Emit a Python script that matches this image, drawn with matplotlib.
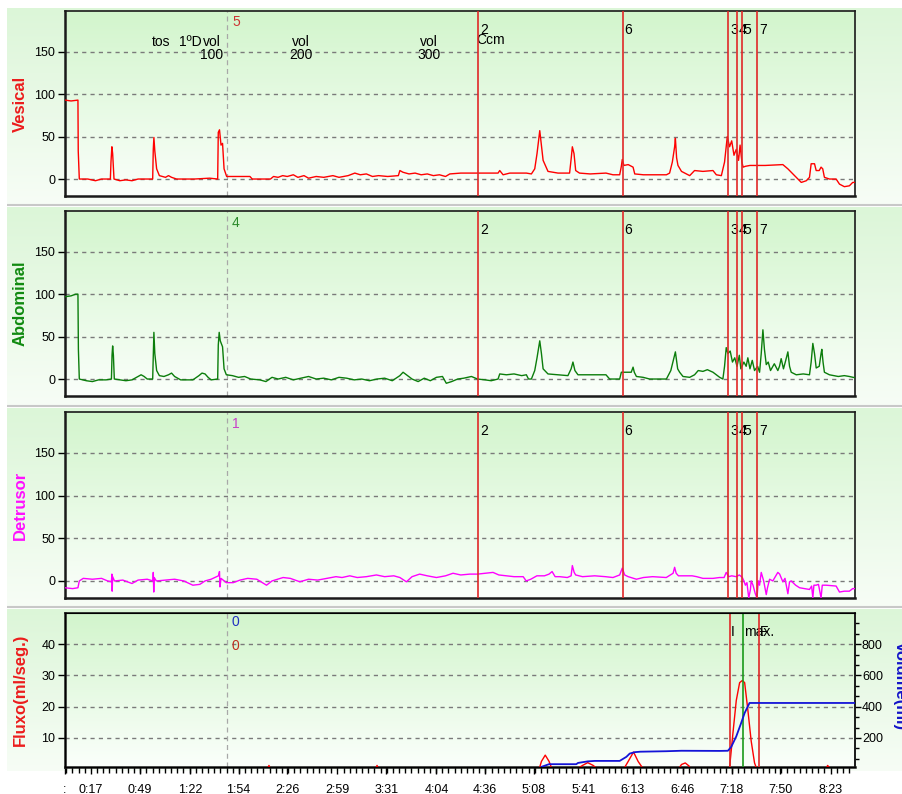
import matplotlib.pyplot as plt
import numpy as np
from matplotlib.colors import LinearSegmentedColormap
from matplotlib.ticker import FixedLocator

plt.rcParams['font.family'] = ['Liberation Sans', 'DejaVu Sans']

# time axis (seconds) and its labels
tick_sec = [0, 17, 49, 82, 114, 146, 179, 211, 244, 276, 308, 341, 373, 406, 438, 470, 503]
tick_lbl = [':', '0:17', '0:49', '1:22', '1:54', '2:26', '2:59', '3:31', '4:04',
            '4:36', '5:08', '5:41', '6:13', '6:46', '7:18', '7:50', '8:23']
t_end = 519

# pressure traces (cmH2O)
ves_t = [0, 4, 8.5, 8.7, 9.4, 15, 20, 24, 29.8, 30.2, 30.8, 31.3, 32.2, 36, 40, 44, 48, 57.6, 58.0, 58.4,
         59, 60.2, 62, 66, 68, 70, 73.3, 85, 95, 100.3, 100.7, 101.5, 102.5, 103.5, 104.5, 106.2, 114,
         121.5, 123, 135, 137, 140, 143, 146, 150, 153, 157, 160, 165, 170, 176, 180, 186, 190.4, 194,
         198, 202, 206, 212, 219, 220, 222, 226, 230, 234, 238, 242, 246, 250, 252.8, 260, 271, 284.5,
         285.6, 287.8, 292.2, 303.1, 306.4, 308.6, 310.1, 311.9, 313, 314.1, 317.3, 323.9, 331.5, 332.6,
         333.3, 334.4, 335.5, 338, 345, 355.4, 360, 364.4, 365.5, 366.1, 367.2, 370, 373.2, 374.3, 380,
         395.1, 397.2, 399, 400.5, 401, 401.8, 402.7, 405, 407.1, 410.4, 413.6, 419.1, 425.7, 427.9,
         431.2, 433.3, 435.1, 436.6, 438, 439.5, 441, 442.5, 443.5, 444.7, 445.5, 447, 450, 460, 471.6,
         474.9, 477.1, 480.4, 483.7, 487, 489.1, 490.2, 492.4, 493.5, 495.5, 496.7, 497.8, 498.9, 502.2,
         506.6, 508.8, 512, 515.3, 517.5, 519]
ves_v = [93, 92, 93, 33, 0, 0, -2, 0, 0, 20, 38, 30, 0, -2, -1, -2, 0, 0, 35, 49,
         33, 12, 4, 2, 4, 2, 0, 0, 1, 0, 55, 58, 40, 42, 12, 3, 3,
         3, 0, 0, 3, 2, 4, 3, 5, 2, 4, 1, 3, 2, 4, 2, 4, 7, 5,
         6, 3, 4, 3, 4, 10, 8, 6, 7, 5, 6, 4, 5, 3, 6, 7, 7, 7,
         10, 5, 7, 7, 6, 12, 30, 57, 40, 22, 9, 7, 7, 25,
         38, 30, 10, 7, 6, 7, 5, 5, 15, 23, 16, 17, 14, 6, 5,
         5, 7, 20, 38, 48, 25, 16, 9, 7, 4, 10, 9, 10, 5,
         4, 20, 50, 38, 45, 28, 35, 22, 40, 20, 14, 15, 16, 16, 17,
         12, 8, 2, -4, -2, 2, 18, 18, 10, 10, 14, 12, 2, 0,
         0, -6, -9, -8, -4, -4]

abd_t = [0, 4, 7, 8.5, 8.8, 9.4, 14, 18, 22, 27, 30.5, 30.9, 31.3, 31.8, 32.4, 36, 40, 44, 48, 50, 52,
         54, 57.6, 58.0, 58.4, 59, 60.2, 62, 65, 68, 70, 72, 76, 84, 88, 90, 92, 94, 96, 100.3, 100.7,
         101.3, 102, 103.5, 104.5, 106, 110, 114, 118, 122, 128, 132, 136, 140, 145, 150, 155, 160, 165,
         170, 175, 180, 185, 190, 195, 200, 205, 210, 215, 220, 222.1, 224.3, 228, 232, 236, 240, 244,
         248, 250.5, 254, 258, 262, 267, 271, 276, 280, 284.5, 285.6, 290, 295, 300, 303.1, 304.5, 306.4,
         308.6, 310.1, 311.9, 313, 314.1, 317.3, 323.9, 330.4, 332.5, 333.7, 335, 337, 345, 355.4, 357.8,
         364.4, 365.5, 372, 373.2, 374, 375.4, 379.8, 384.1, 395.1, 398, 400.5, 401, 402.5, 403.8, 406,
         410.4, 413.6, 416, 419.1, 422, 425.7, 430.1, 432.2, 433.3, 434.4, 435.5, 437, 438.5, 440, 441.5,
         443, 444, 446, 447.5, 448.6, 450, 451.5, 453, 455, 456.3, 457.4, 458.5, 459.5, 460.7, 462, 463.5,
         466, 468.3, 469.4, 470.5, 472, 473.5, 474.9, 476, 477.1, 480.4, 485, 489.1, 490.2, 491.3, 492.4,
         493.5, 495.5, 496.7, 497.2, 498, 498.9, 502.2, 508, 512, 515.3, 519]
abd_v = [97, 98, 100, 100, 35, 0, -2, -3, -1, -1, 0, 28, 39, 28, 0, -1, -2, -1, 3, 5, 3,
         0, 0, 30, 55, 30, 10, 4, 3, 5, 7, 3, -1, -1, 4, 7, 6, 2, -1, 0, 40,
         55, 45, 38, 12, 5, 4, 2, 3, 0, -1, -3, 2, 0, 2, -1, 1, 3, 0,
         1, -1, 2, 1, -1, 0, -2, 0, 1, -2, 4, 8, 5, 0, -3, 1, -2, 2,
         3, -5, -3, 0, 1, 3, 0, -1, -2, 0, 6, 5, 6, 4, 5, 0, 0,
         10, 25, 45, 30, 12, 6, 5, 4, 12, 20, 10, 5, 5, 5, 0,
         0, 8, 8, 14, 8, 3, 2, 0, 0, 10, 28, 32, 12, 8, 3,
         2, 5, 10, 9, 11, 8, 2, 0, 15, 37, 30, 33, 20, 25, 15,
         28, 12, 20, 15, 25, 12, 22, 10, 15, 8, 30, 58, 35, 17, 20, 10,
         18, 10, 15, 24, 12, 22, 32, 15, 8, 5, 6, 5, 20, 42, 30,
         13, 15, 30, 35, 20, 8, 5, 3, 4, 3, 1.5]

det_t = [0, 5, 8.5, 9.4, 12, 18, 24, 28, 30.5, 30.8, 31.0, 31.3, 32.5, 38, 44, 48, 54, 57.8, 58.0, 58.3,
         58.6, 60, 66, 72, 78, 84, 88.6, 92, 96, 100.8, 101.5, 101.8, 102.5, 106, 110.5, 115, 120, 126,
         132.4, 136, 143.3, 148, 154.3, 160, 166, 172, 178, 182, 187.1, 192, 198, 204.6, 210, 216, 220,
         224.3, 228, 233, 238, 244, 250, 254.9, 260, 266, 271, 276, 281.2, 285, 290, 295, 301, 303, 306,
         310, 315, 318, 320, 322, 325, 330, 332.5, 333.3, 334.5, 335.5, 340, 348, 355, 360, 364.4, 366.1,
         367.7, 370, 375.4, 380, 386, 395, 399.5, 400.5, 401.5, 403, 408, 412, 415, 419.1, 425.7, 430,
         433, 434.4, 436, 438, 441, 443, 445, 446, 447, 448, 449.2, 450.3, 450.8, 452, 453.5, 454.6, 455.5,
         456.3, 457.4, 459, 460.7, 461.5, 462.9, 465, 468.3, 469.5, 471.6, 473, 474.9, 476, 477.1, 480,
         482.6, 486, 489.1, 490.5, 491.3, 492, 493.5, 495, 496.7, 497.5, 500, 506.6, 508.8, 512, 515.3,
         517.5, 519]
det_v = [-8, -9, -8, 0, 3, 2, 3, 0, -1, 8, -12, 5, 0, 1, -3, 1, 2, 0, 10, -13,
         4, 0, 1, 2, 0, -5, -4, 0, 2, 6, 11, -7, 3, -2, -2, 1, 3, 2,
         -5, 0, 4, 3, -1, 2, 1, 3, 5, 4, 6, 4, 5, 7, 5, 6, 4,
         -1, 5, 8, 6, 4, 6, 9, 7, 8, 8, 9, 10, 7, 6, 5, 5, 0, 2,
         6, 6, 8, 11, 5, 5, 4, 6, 18, 10, 7, 5, 6, 5, 4, 7, 15,
         7, 5, 2, 4, 5, 4, 9, 16, 9, 6, 6, 6, 5, 3, 3, 4,
         4, 10, 5, 6, 5, 7, 4, 0, -5, -2, -20, -10, 0, -5, -15, -20, 0,
         -5, 10, 0, -16, -8, 2, 0, 10, 8, -1, 3, -15, -1, 0, -5,
         -8, -9, -10, -6, -20, -5, -5, -4, -20, -5, -5, -6, -13, -12, -12,
         -9, -9]

# uroflow (ml/s) and voided volume (ml)
flow_t = [0, 133, 134, 135, 204, 205, 206, 311.5, 313, 315.5, 318, 320, 336, 340, 343.4, 347, 350,
          367, 370, 373.5, 376.5, 380, 403, 405, 407.5, 410, 411, 436.5, 438.8, 441, 443.2, 445,
          446.5, 448.6, 450.8, 453, 454.5, 500, 501, 503, 519]
flow_v = [0, 0, 1.2, 0, 0, 1.2, 0, 0, 2.5, 4.5, 2.5, 0, 0, 1.2, 2.1, 1.2, 0,
          0, 2.5, 5.5, 2.5, 0, 0, 1.5, 2, 1, 0, 0, 11.5, 22, 27.7, 28.4,
          27.7, 19, 9, 2, 0, 0, 1.2, 0, 0]
vol_t = [312.3, 313, 318, 335.9, 337, 343.4, 348, 364.4, 368.8, 371, 374.3, 378, 395, 405, 430,
         435.5, 437.7, 441, 444, 446.5, 448.6, 449.7, 519]
vol_v = [0, 15, 32, 32, 40, 50, 53, 53, 79, 100, 109, 112, 115, 118, 117,
         118, 143, 210, 290, 360, 402, 424, 424]

# event markers
ref_t = 106.4
ev_t = [271.4, 366.4, 435.8, 441.2, 444.7, 454.8]
ev_lbl = ['2', '6', '3', '4', '5', '7']
mic_t = [436.6, 445.6, 455.7]
mic_lbl = ['I', 'max.', 'F']
note_t = [63.4, 82.0, 96.2, 155.0, 239.0]
note_top = ['tos', '1ºD', 'vol', 'vol', 'vol']
note_bot = ['', '', '100', '200', '300']

W, H = 902, 794
fig = plt.figure(figsize=(W / 100, H / 100), dpi=100)


def box(l, t, r, b):
    return [l / W, 1 - b / H, (r - l) / W, (b - t) / H]


panel_px = [(65, 11, 855, 196), (65, 211, 855, 396), (65, 412, 855, 598), (65, 613, 855, 767)]
strip_px = [(7, 8, 902, 204), (7, 207, 902, 405), (7, 408, 902, 606), (7, 609, 902, 771)]

strip_cm = LinearSegmentedColormap.from_list('strip', ['#dcf6d8', '#f7fdf6'])
plot_cm = LinearSegmentedColormap.from_list('plot', ['#d2f5cc', '#fbfffb'])
grad = np.linspace(0, 1, 256).reshape(-1, 1)

# background strips behind every channel
bg = fig.add_axes([0, 0, 1, 1], zorder=-5)
for l, t, r, b in strip_px:
    bg.imshow(grad, cmap=strip_cm, extent=(l, r, b, t), aspect='auto')
for l, t, r, b in panel_px:
    bg.imshow(grad, cmap=plot_cm, extent=(l, r, b, t), aspect='auto')
bg.hlines([205, 406, 607], 7, W, color='#c8c8c8', lw=1.5)
bg.set_xlim(0, W)
bg.set_ylim(H, 0)
bg.axis('off')

grid_ls = (0, (3, 3))
ev_color = '#e02828'


def style(ax):
    ax.set_facecolor('none')
    for side in ['left', 'bottom']:
        ax.spines[side].set_linewidth(1.8)
    for side in ['top', 'right']:
        ax.spines[side].set_linewidth(1.2)
    for s in ax.spines.values():
        s.set_color('#1a1a1a')
    ax.yaxis.grid(True, color='#7a7a7a', ls=grid_ls, lw=1)
    ax.set_axisbelow(True)
    ax.tick_params(axis='y', direction='out', length=5, width=1, pad=2, labelsize=9)
    ax.set_xlim(0, t_end)
    ax.axvline(ref_t, color='#a8a8a8', lw=0.9, ls=(0, (4, 3)))


def mark(ax, t, txt, dx, dy, color='black', ha='left'):
    ax.annotate(txt, xy=(t, 1), xycoords=('data', 'axes fraction'), xytext=(dx, dy),
                textcoords='offset points', ha=ha, va='center', fontsize=10, color=color)


traces = [(ves_t, ves_v, '#ff0000'), (abd_t, abd_v, '#0b7d0b'), (det_t, det_v, '#ff00ff')]
names = [('Vesical', '#ec1c1c'), ('Abdominal', '#108a10'), ('Detrusor', '#ff10ff')]
ref_lbl = [('5', '#cc3333'), ('4', '#2a8a2a'), ('1', '#c840c8')]

for i in range(3):
    ax = fig.add_axes(box(*panel_px[i]))
    style(ax)
    tt, vv, c = traces[i]
    ax.plot(tt, vv, color=c, lw=1.0, zorder=3)
    for t in ev_t:
        ax.axvline(t, color=ev_color, lw=1.2, zorder=4)
    ax.set_ylim(-20, 198)
    ax.set_yticks([0, 50, 100, 150])
    ax.tick_params(axis='x', bottom=False, labelbottom=False)
    mark(ax, ref_t, ref_lbl[i][0], 3.6, -8 if i == 0 else -8.5, ref_lbl[i][1])
    for t, s in zip(ev_t, ev_lbl):
        mark(ax, t, s, 1.2, -13.5)
    l, t0, r, b = panel_px[i]
    fig.text(20 / W, 1 - (t0 + b) / 2 / H, names[i][0], rotation=90, ha='center', va='center',
             fontsize=12, fontweight='bold', color=names[i][1])
    if i == 0:
        mark(ax, ev_t[0], 'Ccm', -1, -21)
        for t, a, bt in zip(note_t, note_top, note_bot):
            mark(ax, t, a, 0, -22.5, ha='center')
            if bt:
                mark(ax, t, bt, 0, -32, ha='center')

# uroflowmetry channel
ax4 = fig.add_axes(box(*panel_px[3]))
style(ax4)
ax4.plot(flow_t, flow_v, color='#ff0000', lw=1.0, zorder=3)
for t in [mic_t[0], mic_t[2]]:
    ax4.axvline(t, color=ev_color, lw=1.2, zorder=4)
ax4.axvline(mic_t[1], color='#1a9a1a', lw=1.2, zorder=4)
ax4.set_ylim(0.7, 50)
ax4.set_yticks([10, 20, 30, 40])
ax4.set_xticks(tick_sec)
ax4.set_xticklabels(tick_lbl)
ax4.xaxis.set_minor_locator(FixedLocator(np.arange(17 - 4 * 4.05, t_end, 4.05)))
ax4.tick_params(axis='x', which='major', direction='out', length=5, width=1, pad=7, labelsize=9)
ax4.tick_params(axis='x', which='minor', direction='out', length=4, width=1)
mark(ax4, ref_t, '0', 3.6, -6.5, '#2030c0')
mark(ax4, ref_t, '0', 3.6, -23.5, '#c03020')
mark(ax4, mic_t[0], 'I', 0.8, -13.5)
mark(ax4, mic_t[1], 'max.', 0.8, -13.5)
mark(ax4, mic_t[2], 'F', 0.8, -13.5)

ax4r = ax4.twinx()
ax4r.plot(vol_t, vol_v, color='#1414d8', lw=1.3, zorder=5)
ax4r.set_ylim(14, 1000)
ax4r.set_yticks([200, 400, 600, 800])
ax4r.yaxis.set_minor_locator(FixedLocator(np.arange(0, 1000, 200 / 3)))
ax4r.tick_params(axis='y', which='major', direction='out', length=4, width=1, pad=1, labelsize=9)
ax4r.tick_params(axis='y', which='minor', direction='out', length=3, width=1)
ax4r.spines['right'].set_linewidth(1.2)
ax4r.spines['right'].set_color('#1a1a1a')

fig.text(20 / W, 1 - 690 / H, 'Fluxo(ml/seg.)', rotation=90, ha='center', va='center',
         fontsize=12, fontweight='bold', color='#ec1c1c')
fig.text(893 / W, 1 - 686 / H, 'Volume(ml)', rotation=270, ha='left', va='center',
         fontsize=12, fontweight='bold', color='#1414c8')

fig.savefig('out.png', dpi=100)
